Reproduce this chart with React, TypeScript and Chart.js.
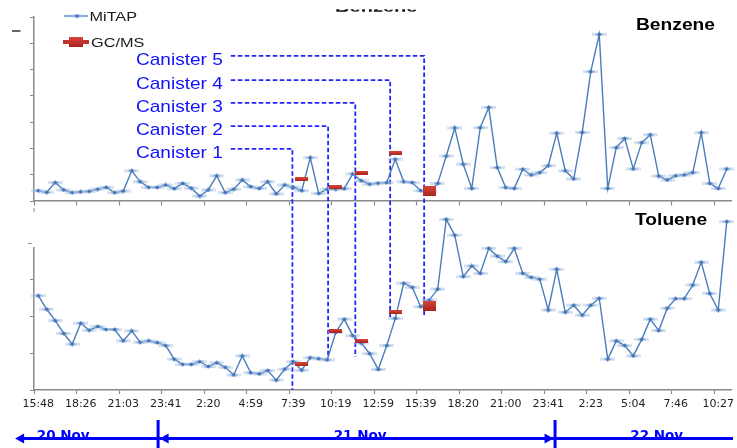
import React, { useEffect, useRef } from 'react';
import { Chart, registerables } from 'chart.js';

Chart.register(...registerables);

// ---------- data ----------
const timeTickLabels = [
  '15:48', '18:26', '21:03', '23:41', '2:20', '4:59', '7:39', '10:19', '12:59',
  '15:39', '18:20', '21:00', '23:41', '2:23', '5:04', '7:46', '10:27',
];

const benzeneMiTAP = [
  0.39, 0.33, 0.70, 0.42, 0.32, 0.35, 0.37, 0.45, 0.52, 0.32,
  0.38, 1.15, 0.73, 0.52, 0.52, 0.61, 0.47, 0.67, 0.49, 0.19,
  0.42, 0.96, 0.32, 0.45, 0.80, 0.54, 0.48, 0.73, 0.27, 0.61,
  0.52, 0.39, 1.65, 0.29, 0.45, 0.45, 0.47, 1.03, 0.77, 0.64,
  0.68, 0.70, 1.59, 0.73, 0.70, 0.39, 0.36, 0.67, 1.71, 2.78,
  1.40, 0.48, 2.79, 3.56, 1.27, 0.51, 0.48, 1.21, 0.99, 1.08,
  1.34, 2.58, 1.15, 0.84, 2.61, 4.92, 6.34, 0.48, 2.03, 2.38,
  1.22, 2.22, 2.52, 0.95, 0.80, 0.96, 0.99, 1.08, 2.60, 0.67,
  0.48, 1.22,
];

const tolueneMiTAP = [
  2.57, 2.20, 1.89, 1.54, 1.25, 1.82, 1.63, 1.73, 1.65, 1.65,
  1.34, 1.61, 1.30, 1.34, 1.29, 1.21, 0.84, 0.70, 0.70, 0.77,
  0.64, 0.74, 0.62, 0.41, 0.93, 0.47, 0.44, 0.53, 0.27, 0.57,
  0.77, 0.54, 0.88, 0.85, 0.82, 1.57, 1.93, 1.48, 1.28, 0.99,
  0.56, 1.21, 1.95, 2.91, 2.80, 2.27, 2.45, 2.75, 4.65, 4.22,
  3.09, 3.38, 3.18, 3.86, 3.65, 3.50, 3.86, 3.18, 3.07, 3.02,
  2.18, 3.29, 2.12, 2.31, 2.04, 2.31, 2.50, 0.84, 1.34, 1.21,
  0.93, 1.38, 1.93, 1.62, 2.23, 2.49, 2.49, 2.86, 3.48, 2.63,
  2.18, 4.59,
];

const canisterSample = [31, 35, 38, 42, 46];
const benzeneGCMS = [0.83, 0.52, 1.08, 1.83, 0.38];
const tolueneGCMS = [0.70, 1.62, 1.34, 2.12, 2.30];

const canisterNames = ['Canister 1', 'Canister 2', 'Canister 3', 'Canister 4', 'Canister 5'];
const canisterGuideX = [29.9, 34.1, 37.3, 41.4, 45.4];
const canisterGuideBenzene = [1.98, 2.85, 3.73, 4.6, 5.52];
const canisterGuideTolueneEnd = [0, 0.87, 0.9, 1.96, 1.99];
const canisterTextX = 11.5;

const dayNames = ['20 Nov.', '21 Nov.', '22 Nov.'];
const dayNameX = [3.17, 38.1, 73.0];
const dayBreakX = [14.1, 60.8];
const dayArrowStartX = -2.72;

const samples = benzeneMiTAP.map((_, i) => i);

// ---------- layout / style constants ----------
const W = 737;
const H = 448;
const BENZENE_BOTTOM = 201;
const TOLUENE_TOP = 248;
const AXIS = '#8a8a8a';
const LINE = '#4a7ebb';
const BLUE = '#0000ff';
const GUIDE = '#2323ff';

function gcmsSeries(vals: number[]) {
  return samples.map((i) => {
    const k = canisterSample.indexOf(i);
    return k < 0 ? null : vals[k];
  });
}

function makeMiTAPMarker() {
  const c = document.createElement('canvas');
  c.width = 15;
  c.height = 5;
  const g = c.getContext('2d')!;
  g.fillStyle = 'rgba(175,198,228,0.5)';
  g.fillRect(0, 1, 15, 3);
  g.fillStyle = 'rgba(120,160,212,0.6)';
  g.fillRect(3.5, 1.5, 8, 2);
  g.fillStyle = '#3f72b5';
  g.beginPath();
  g.moveTo(7.5, 0.3);
  g.lineTo(9.7, 2.5);
  g.lineTo(7.5, 4.7);
  g.lineTo(5.3, 2.5);
  g.closePath();
  g.fill();
  return c;
}

function makeGCMSMarker(w: number, h: number) {
  const c = document.createElement('canvas');
  c.width = w;
  c.height = h;
  const g = c.getContext('2d')!;
  const gr = g.createLinearGradient(0, 0, 0, h);
  gr.addColorStop(0, '#d9453c');
  gr.addColorStop(1, '#a8241d');
  g.fillStyle = gr;
  g.fillRect(0, 0, w, h);
  return c;
}

function stretchText(
  ctx: CanvasRenderingContext2D,
  text: string,
  x: number,
  y: number,
  font: string,
  color: string,
  sx: number,
  align: CanvasTextAlign = 'left'
) {
  ctx.save();
  ctx.font = font;
  ctx.fillStyle = color;
  ctx.textAlign = align;
  ctx.textBaseline = 'alphabetic';
  ctx.translate(x, y);
  ctx.scale(sx, 1);
  ctx.fillText(text, 0, 0);
  ctx.restore();
}

export default function App() {
  const ref = useRef<HTMLCanvasElement>(null);

  useEffect(() => {
    document.body.style.margin = '0';
    const mitapMarker = makeMiTAPMarker();
    const thinMarker = makeGCMSMarker(13, 4);
    const bigMarker = makeGCMSMarker(13, 10);

    const tickColor = (c: any) => (c.index !== undefined && c.index % 5 === 0 ? AXIS : 'rgba(0,0,0,0)');

    const decor = {
      id: 'decor',
      afterLayout(chart: any) {
        const ca = chart.chartArea;
        const yB = chart.scales.yB;
        const yT = chart.scales.yT;
        yB.top = ca.top;
        yB.bottom = BENZENE_BOTTOM;
        yB.height = yB.bottom - yB.top;
        yB.configure();
        yT.top = TOLUENE_TOP;
        yT.bottom = ca.bottom;
        yT.height = yT.bottom - yT.top;
        yT.configure();
      },
      beforeDatasetsDraw(chart: any) {
        const { ctx } = chart;
        const x = chart.scales.x;
        const yB = chart.scales.yB;
        const yT = chart.scales.yT;
        ctx.save();
        ctx.font = '17px "Liberation Sans", Arial, sans-serif';
        const textLeft = x.getPixelForValue(canisterTextX);
        const lineStart = textLeft + ctx.measureText(canisterNames[0]).width * 1.12 + 8;
        ctx.strokeStyle = GUIDE;
        ctx.lineWidth = 1.8;
        ctx.setLineDash([4.5, 2.5]);
        canisterGuideX.forEach((gx, k) => {
          const px = x.getPixelForValue(gx);
          const py = yB.getPixelForValue(canisterGuideBenzene[k]);
          const pEnd = yT.getPixelForValue(canisterGuideTolueneEnd[k]);
          ctx.beginPath();
          ctx.moveTo(lineStart, py);
          ctx.lineTo(px, py);
          ctx.lineTo(px, pEnd);
          ctx.stroke();
        });
        ctx.restore();
      },
      afterDraw(chart: any) {
        const { ctx } = chart;
        const x = chart.scales.x;
        const yB = chart.scales.yB;
        const ca = chart.chartArea;

        // canister labels
        const textLeft = x.getPixelForValue(canisterTextX);
        canisterNames.forEach((name, k) => {
          const py = yB.getPixelForValue(canisterGuideBenzene[k]);
          stretchText(ctx, name, textLeft, py + 8.7, '17px "Liberation Sans", Arial, sans-serif', '#1010ff', 1.12);
        });

        // panel titles
        stretchText(ctx, 'Benzene', 636, 30, 'bold 17px "Liberation Sans", Arial, sans-serif', '#000', 1.13);
        stretchText(ctx, 'Toluene', 635, 224.5, 'bold 17px "Liberation Sans", Arial, sans-serif', '#000', 1.13);

        // cropped remnant of an upper title
        ctx.save();
        ctx.beginPath();
        ctx.rect(0, 9.2, W, 2.6);
        ctx.clip();
        stretchText(ctx, 'Benzene', 335, 11.6, 'bold 17px "Liberation Sans", Arial, sans-serif', '#111', 1.18);
        ctx.restore();

        // legend
        ctx.save();
        ctx.strokeStyle = LINE;
        ctx.lineWidth = 1.3;
        ctx.beginPath();
        ctx.moveTo(64, 16);
        ctx.lineTo(88, 16);
        ctx.stroke();
        ctx.drawImage(mitapMarker, 77 - 7.5, 16 - 2.5);
        ctx.strokeStyle = '#c0342c';
        ctx.lineWidth = 4;
        ctx.beginPath();
        ctx.moveTo(63, 42);
        ctx.lineTo(89, 42);
        ctx.stroke();
        ctx.drawImage(bigMarker, 75.5 - 7, 42 - 5, 14, 10);
        ctx.restore();
        stretchText(ctx, 'MiTAP', 89.5, 20.8, '12.5px "Liberation Sans", Arial, sans-serif', '#1a1a1a', 1.3);
        stretchText(ctx, 'GC/MS', 91, 46.6, '12.5px "Liberation Sans", Arial, sans-serif', '#1a1a1a', 1.3);

        // small stray marks
        ctx.save();
        ctx.strokeStyle = '#333';
        ctx.lineWidth = 1.5;
        ctx.beginPath();
        ctx.moveTo(12, 31);
        ctx.lineTo(20.5, 31);
        ctx.stroke();
        ctx.strokeStyle = AXIS;
        ctx.lineWidth = 1;
        ctx.beginPath();
        ctx.moveTo(28, 243.5);
        ctx.lineTo(31.5, 243.5);
        ctx.moveTo(34, 208);
        ctx.lineTo(34, 212);
        ctx.stroke();
        ctx.restore();

        // day bar
        const by = 438.5;
        const b1 = x.getPixelForValue(dayBreakX[0]);
        const b2 = x.getPixelForValue(dayBreakX[1]);
        const start = x.getPixelForValue(dayArrowStartX);
        ctx.save();
        ctx.fillStyle = BLUE;
        ctx.strokeStyle = BLUE;
        dayNames.forEach((d, k) => {
          ctx.font = 'bold 13.5px "DejaVu Sans", Verdana, sans-serif';
          ctx.textAlign = 'center';
          ctx.textBaseline = 'alphabetic';
          ctx.fillText(d, x.getPixelForValue(dayNameX[k]), by + 1);
        });
        ctx.lineWidth = 3;
        ctx.beginPath();
        ctx.moveTo(start + 6, by);
        ctx.lineTo(ca.right + 2, by);
        ctx.stroke();
        ctx.beginPath();
        ctx.moveTo(b1, 420);
        ctx.lineTo(b1, H);
        ctx.moveTo(b2, 420);
        ctx.lineTo(b2, H);
        ctx.stroke();
        const arrow = (tip: number, dir: number) => {
          ctx.beginPath();
          ctx.moveTo(tip, by);
          ctx.lineTo(tip + dir * 9, by - 5);
          ctx.lineTo(tip + dir * 9, by + 5);
          ctx.closePath();
          ctx.fill();
        };
        arrow(start, 1);
        arrow(b1 + 1.5, 1);
        arrow(b2 - 1.5, -1);
        ctx.restore();
      },
    };

    const chart = new Chart(ref.current!, {
      type: 'line',
      data: {
        labels: samples,
        datasets: [
          {
            label: 'GC/MS benzene',
            data: gcmsSeries(benzeneGCMS),
            xAxisID: 'x',
            yAxisID: 'yB',
            showLine: false,
            pointStyle: (c: any) => (canisterSample.indexOf(c.dataIndex) === 4 ? bigMarker : thinMarker),
            pointRadius: 5,
            order: 0,
          },
          {
            label: 'GC/MS toluene',
            data: gcmsSeries(tolueneGCMS),
            xAxisID: 'x',
            yAxisID: 'yT',
            showLine: false,
            clip: false,
            pointStyle: (c: any) => (canisterSample.indexOf(c.dataIndex) === 4 ? bigMarker : thinMarker),
            pointRadius: 5,
            order: 0,
          },
          {
            label: 'MiTAP benzene',
            data: benzeneMiTAP,
            xAxisID: 'x',
            yAxisID: 'yB',
            borderColor: LINE,
            borderWidth: 1.4,
            pointStyle: mitapMarker,
            pointRadius: 3,
            tension: 0,
            order: 1,
          },
          {
            label: 'MiTAP toluene',
            data: tolueneMiTAP,
            xAxisID: 'x',
            yAxisID: 'yT',
            clip: false,
            borderColor: LINE,
            borderWidth: 1.4,
            pointStyle: mitapMarker,
            pointRadius: 3,
            tension: 0,
            order: 1,
          },
        ] as any,
      },
      options: {
        animation: false,
        responsive: false,
        events: [],
        layout: { padding: { top: 17, left: 0, right: 0, bottom: 0 } },
        plugins: { legend: { display: false }, tooltip: { enabled: false } },
        scales: {
          x: {
            type: 'category',
            position: 'bottom',
            offset: true,
            grid: { offset: true, drawOnChartArea: false, tickLength: 4, tickColor: tickColor, tickWidth: 1.2 },
            border: { color: AXIS, width: 1.5 },
            ticks: {
              autoSkip: false,
              maxRotation: 0,
              minRotation: 0,
              padding: 4,
              color: '#222',
              font: { family: '"DejaVu Sans", Verdana, sans-serif', size: 11 },
              callback: (_v: any, i: number) => (i % 5 === 0 ? timeTickLabels[i / 5] : ''),
            },
            afterFit: (s: any) => {
              s.height = H - 390;
            },
          },
          x2: {
            type: 'category',
            axis: 'x',
            position: { yB: 0 },
            offset: true,
            grid: { offset: true, drawOnChartArea: false, tickLength: 4, tickColor: tickColor, tickWidth: 1.2 },
            border: { color: AXIS, width: 1.5 },
            ticks: { display: false, autoSkip: false, maxRotation: 0 },
          },
          yB: {
            type: 'linear',
            position: 'left',
            stack: 'panels',
            min: 0,
            max: 7,
            ticks: { display: false, stepSize: 1 },
            grid: { drawOnChartArea: false, tickLength: 4, color: AXIS },
            border: { color: AXIS, width: 1.5 },
            afterFit: (s: any) => {
              s.width = 34;
            },
          },
          yT: {
            type: 'linear',
            position: 'left',
            stack: 'panels',
            min: 0,
            max: 3.87,
            ticks: { display: false, stepSize: 1, includeBounds: false },
            grid: { drawOnChartArea: false, tickLength: 4, color: AXIS },
            border: { color: AXIS, width: 1.5 },
            afterFit: (s: any) => {
              s.width = 34;
            },
          },
        },
      } as any,
      plugins: [decor],
    });
    return () => chart.destroy();
  }, []);

  return (
    <div style={{ position: 'fixed', left: 0, top: 0, width: W, height: H, background: '#fff' }}>
      <canvas ref={ref} width={W} height={H} style={{ display: 'block', width: W, height: H }} />
    </div>
  );
}
